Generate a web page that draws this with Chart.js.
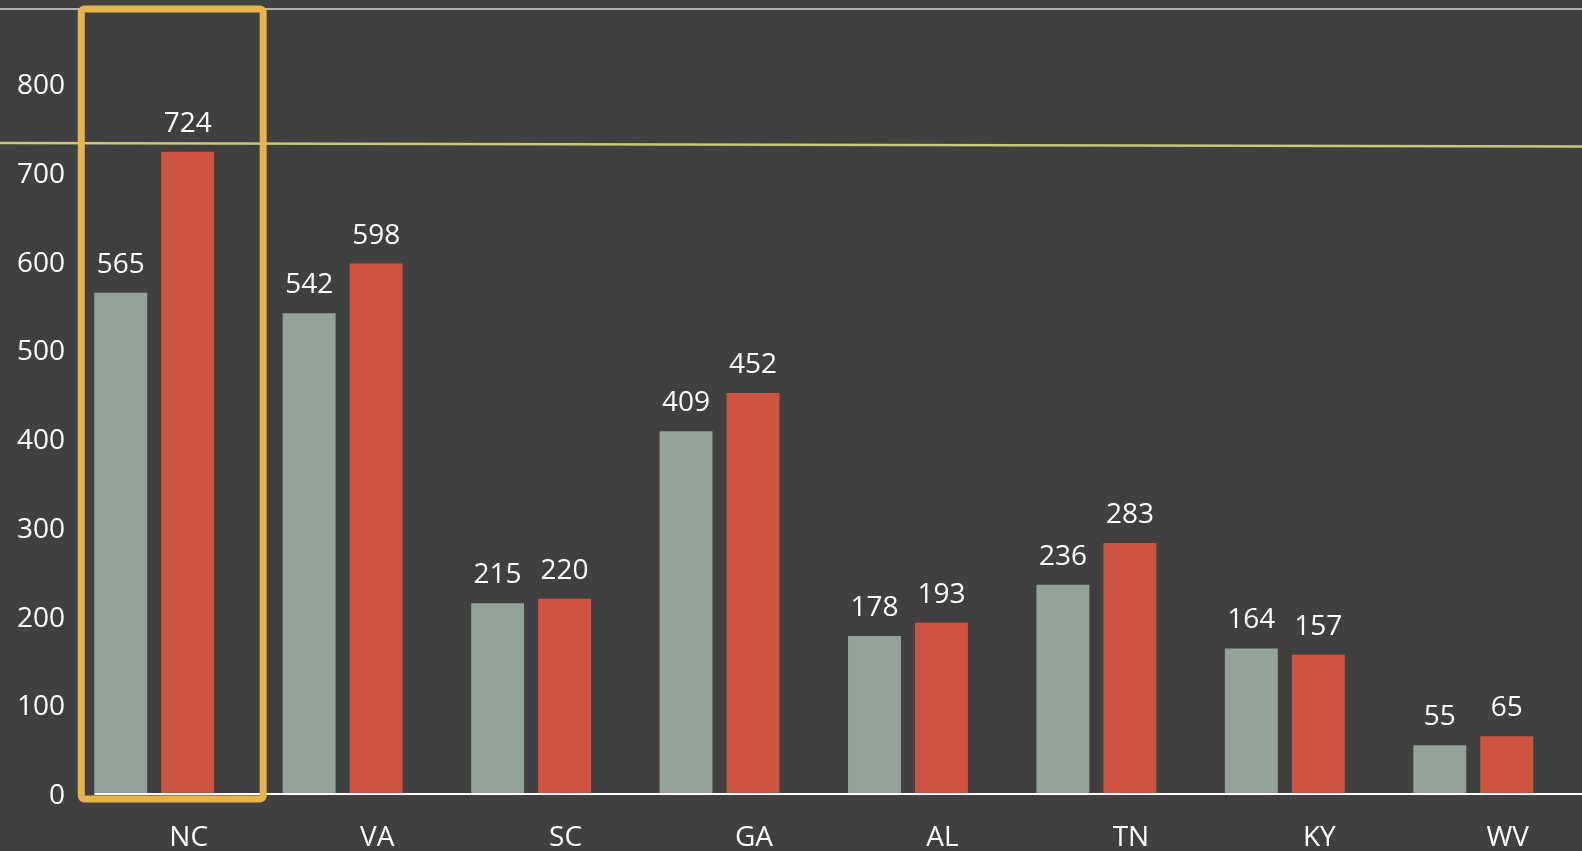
<!DOCTYPE html>
<html>
<head>
<meta charset="utf-8">
<script src="https://cdn.jsdelivr.net/npm/chart.js@4"></script>
<style>
  html, body { margin: 0; padding: 0; background: #404040; }
  #wrap { width: 1582px; height: 851px; position: relative; }
</style>
</head>
<body>
<div id="wrap"><canvas id="myChart"></canvas></div>
<script>
const states = ["NC", "VA", "SC", "GA", "AL", "TN", "KY", "WV"];
const seriesA = [565, 542, 215, 409, 178, 236, 164, 55];
const seriesB = [724, 598, 220, 452, 193, 283, 157, 65];
const refLine = [734, 730]; // left end, right end
const yMax = 885;
const fontFamily = "'Open Sans', sans-serif";

// lines, highlight box, y tick labels and value labels
const decorations = {
    id: 'decorations',
    afterDatasetsDraw(chart) {
        const ctx = chart.ctx;
        const y = chart.scales.y;
        const area = chart.chartArea;
        const barsA = chart.getDatasetMeta(0).data;
        const barsB = chart.getDatasetMeta(1).data;
        ctx.save();

        // top border
        ctx.strokeStyle = '#d9d9d9';
        ctx.lineWidth = 1.5;
        ctx.beginPath();
        ctx.moveTo(0, area.top);
        ctx.lineTo(chart.width, area.top);
        ctx.stroke();

        // baseline
        const firstLeft = barsA[0].x - barsA[0].width / 2;
        ctx.strokeStyle = '#ffffff';
        ctx.lineWidth = 2;
        ctx.beginPath();
        ctx.moveTo(firstLeft, y.getPixelForValue(0));
        ctx.lineTo(chart.width, y.getPixelForValue(0));
        ctx.stroke();

        // reference line
        ctx.strokeStyle = '#c9c97c';
        ctx.lineWidth = 2.5;
        ctx.beginPath();
        ctx.moveTo(0, y.getPixelForValue(refLine[0]));
        ctx.lineTo(chart.width, y.getPixelForValue(refLine[1]));
        ctx.stroke();

        ctx.fillStyle = '#ffffff';
        ctx.font = '28px ' + fontFamily;
        ctx.textBaseline = 'middle';

        // y tick labels (drawn here so they are not clipped)
        ctx.textAlign = 'right';
        y.ticks.forEach(t => {
            ctx.fillText(t.value, 65, y.getPixelForValue(t.value) + 2);
        });

        // value labels
        ctx.textAlign = 'center';
        [[barsA, seriesA], [barsB, seriesB]].forEach(([bars, vals]) => {
            bars.forEach((b, i) => {
                ctx.fillText(vals[i], b.x, b.y - 28);
            });
        });

        // highlight box around first state
        const bRight = barsB[0].x + barsB[0].width / 2;
        const left = firstLeft - 13;
        const right = bRight + 49;
        const top = area.top;
        const bottom = y.getPixelForValue(0) + 5;
        ctx.strokeStyle = '#e8b44a';
        ctx.lineWidth = 7;
        ctx.lineJoin = 'round';
        ctx.beginPath();
        ctx.roundRect(left, top, right - left, bottom - top, 3);
        ctx.stroke();
        ctx.restore();
    }
};

let myChart = new Chart("myChart", {
    type: "bar",
    data: {
        labels: states,
        datasets: [
            {label: "A", data: seriesA, backgroundColor: "#93a39a"},
            {label: "B", data: seriesB, backgroundColor: "#ce5441"}
        ]
    },
    options: {
        responsive: true,
        maintainAspectRatio: false,
        animation: false,
        categoryPercentage: 0.711,
        barPercentage: 0.79,
        layout: {padding: {top: 9, right: 14.5, left: 0, bottom: 0}},
        plugins: {
            legend: {display: false},
            tooltip: {enabled: false}
        },
        scales: {
            x: {
                grid: {display: false},
                border: {display: false},
                ticks: {
                    color: '#ffffff',
                    font: {family: fontFamily, size: 28},
                    labelOffset: 34.5,
                    padding: 19,
                    maxRotation: 0
                },
                afterFit(scale) { scale.height = 57; }
            },
            y: {
                min: 0,
                max: yMax,
                grid: {display: false, drawTicks: false},
                border: {display: false},
                ticks: {display: false, stepSize: 100},
                afterBuildTicks(scale) {
                    scale.ticks = scale.ticks.filter(t => t.value % 100 === 0);
                },
                afterFit(scale) { scale.width = 60; }
            }
        }
    },
    plugins: [decorations]
});
</script>
</body>
</html>
